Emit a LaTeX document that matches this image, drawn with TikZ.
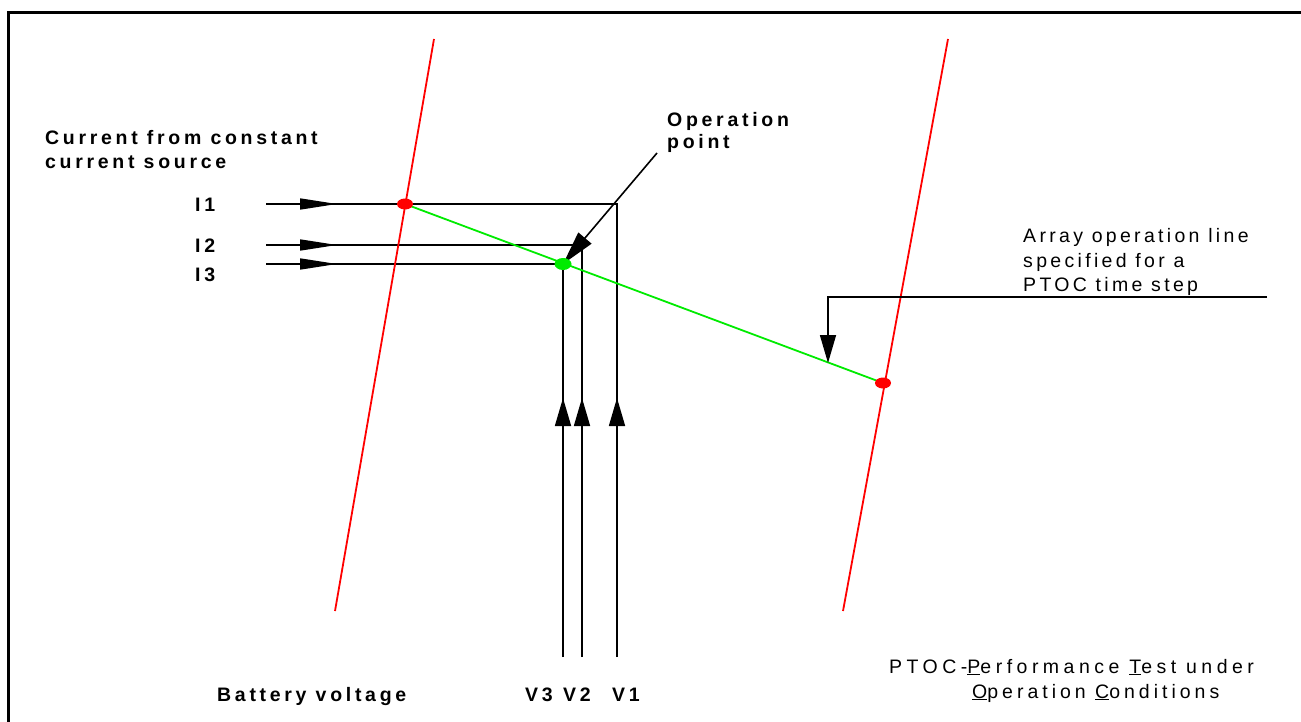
\documentclass[tikz,border=0pt]{standalone}
\usepackage{fontspec}
\setmainfont{Liberation Sans}
\newfontfamily\lsB[LetterSpace=19]{Liberation Sans}
\newfontfamily\lsR[LetterSpace=17]{Liberation Sans}
\newfontfamily\lsRa[LetterSpace=23]{Liberation Sans}
\newfontfamily\lsRb[LetterSpace=20.5]{Liberation Sans}
\usetikzlibrary{arrows.meta,shapes.geometric}
\definecolor{lgreen}{RGB}{0,235,0}
\begin{document}
\begin{tikzpicture}[x=1pt,y=-1pt,
  bl/.style={inner sep=0pt, anchor=base west, font={\lsB\bfseries\fontsize{19.5}{23}\selectfont}},
  rl/.style={inner sep=0pt, anchor=base west, font={\lsR\fontsize{19.5}{23}\selectfont}},
  rla/.style={inner sep=0pt, anchor=base west, font={\lsRa\fontsize{19.5}{23}\selectfont}},
  rlb/.style={inner sep=0pt, anchor=base west, font={\lsRb\fontsize{19.5}{23}\selectfont}},
  wire/.style={black, line width=1.6pt},
  redline/.style={red, line width=1.8pt},
  gline/.style={lgreen, line width=1.8pt},
  harr/.style={-{Triangle[length=37pt,width=11pt]}},
  varr/.style={-{Triangle[length=28pt,width=16pt]}},
  oarr/.style={-{Triangle[length=34pt,width=17pt]}},
  dotR/.style={ellipse, fill=red, minimum width=16pt, minimum height=11pt, inner sep=0pt},
  dotG/.style={ellipse, fill=lgreen, minimum width=17pt, minimum height=12pt, inner sep=0pt}
]
\useasboundingbox (0,0) rectangle (1301,722);
\fill[white] (0,0) rectangle (1301,722);
% frame
\draw[line width=3pt] (8.5,722) -- (8.5,13) -- (1301,13);

% coordinates
\coordinate (r1t) at (434,39);  \coordinate (r1b) at (335,611);
\coordinate (r2t) at (948,39);  \coordinate (r2b) at (843,611);
\coordinate (p1) at (405,204);
\coordinate (pg) at (563,264);
\coordinate (p2) at (883,383);
\coordinate (i1s) at (266,204); \coordinate (i1a) at (337,204); \coordinate (c1) at (617,204);
\coordinate (i2s) at (266,245); \coordinate (i2a) at (337,245); \coordinate (c2) at (582,245);
\coordinate (i3s) at (266,264); \coordinate (i3a) at (337,264);
\coordinate (v3b) at (563,657); \coordinate (v3a) at (563,398);
\coordinate (v2b) at (582,657); \coordinate (v2a) at (582,398);
\coordinate (v1b) at (617,657); \coordinate (v1a) at (617,398);
\coordinate (op) at (657,153);
\coordinate (a1) at (1267,297); \coordinate (a2) at (828,297); \coordinate (a3) at (828,363);

% current and voltage lines (continuous)
\draw[wire] (i1s) -- (c1) -- (v1b);
\draw[wire] (i2s) -- (c2) -- (v2b);
\draw[wire] (i3s) -- (pg) -- (v3b);
% arrowheads on them
\draw[wire,harr] (i1s) -- (i1a);
\draw[wire,harr] (i2s) -- (i2a);
\draw[wire,harr] (i3s) -- (i3a);
\draw[wire,varr] (v3b) -- (v3a);
\draw[wire,varr] (v2b) -- (v2a);
\draw[wire,varr] (v1b) -- (v1a);

% red lines
\draw[redline] (r1t) -- (r1b);
\draw[redline] (r2t) -- (r2b);
% green operation line
\draw[gline] (p1) -- (p2);

% operation point arrow
\draw[wire,oarr] (op) -- (pg);
% array operation arrow
\draw[wire,varr] (a1) -- (a2) -- (a3);

% dots
\node[dotR] (d1) at (p1) {};
\node[dotG] (dg) at (pg) {};
\node[dotR] (d2) at (p2) {};

% texts
\node[bl] (cur1) at (45,145) {Current from constant};
\node[bl] (cur2) at (45,169) {current source};
\node[bl] (lI1) at (195,212) {I1};
\node[bl] (lI2) at (195,252) {I2};
\node[bl] (lI3) at (195,281) {I3};
\node[bl] (op1) at (667,127) {Operation};
\node[bl] (op2) at (667,149) {point};
\node[rl] (ar1) at (1023,243) {Array operation line};
\node[rl] (ar2) at (1023,267) {specified for a};
\node[rl] (ar3) at (1023,291) {PTOC time step};
\node[bl] (bat) at (217,701) {Battery voltage};
\node[bl] (lV3) at (525,701) {V3};
\node[bl] (lV2) at (563,701) {V2};
\node[bl] (lV1) at (612,701) {V1};
\node[rla] (pt1) at (889,673) {PTOC-\underline{P}erformance \underline{T}est under};
\node[rlb] (pt2) at (972,698) {\underline{O}peration \underline{C}onditions};
\end{tikzpicture}
\end{document}
